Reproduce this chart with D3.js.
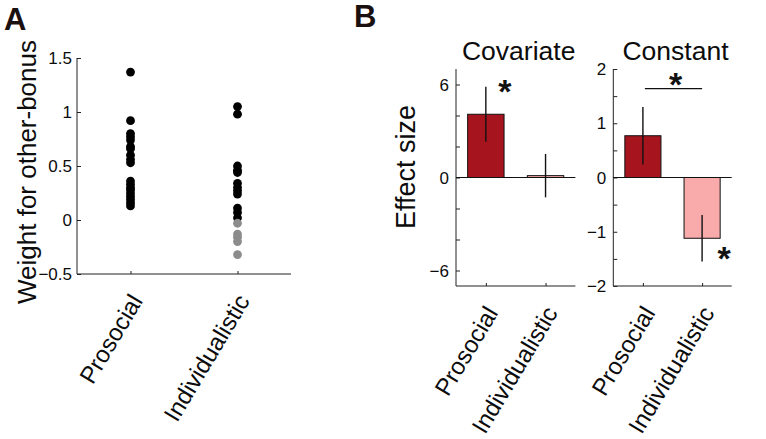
<!DOCTYPE html>
<html><head><meta charset="utf-8">
<script src="https://cdn.jsdelivr.net/npm/d3@7"></script>
<style>
body{margin:0;background:#fff;}
svg{display:block;font-family:"Liberation Sans",Arial,Helvetica,sans-serif;}
</style></head>
<body><svg id="c" width="766" height="439"></svg>
<script>
// ---------- data ----------
const groups = ["Prosocial", "Individualistic"];
const prosocialWeights = [1.37, 0.92, 0.80, 0.77, 0.74, 0.68, 0.66, 0.60, 0.56, 0.53, 0.36, 0.33, 0.30, 0.28, 0.25, 0.22, 0.19, 0.16, 0.13];
const individualisticWeights = [1.05, 0.98, 0.50, 0.46, 0.44, 0.34, 0.30, 0.27, 0.24, 0.11, 0.07, 0.02, -0.03, -0.13, -0.16, -0.20, -0.32];
const weightTicks = [-0.5, 0, 0.5, 1, 1.5];
const weightTickLabels = ["\u22120.5", "0", "0.5", "1", "1.5"];

const covariateMeans = [4.08, 0.12];
const covariateErrors = [1.78, 1.40];
const covariateTicks = [-6, -4, -2, 0, 2, 4, 6];
const covariateLabeled = [-6, 0, 6];

const constantMeans = [0.77, -1.12];
const constantErrors = [0.53, 0.43];
const constantTicks = [-2, -1.5, -1, -0.5, 0, 0.5, 1, 1.5, 2];
const constantLabeled = [-2, -1, 0, 1, 2];
const constantBracket = 1.64;

const barColors = ["#a6151e", "#f9aaab"];

// ---------- drawing ----------
const svg = d3.select("#c");
const axisColor = "#222";
const textColor = "#0c0c0c";
const tickFont = 17;
const fmt = v => (v < 0 ? "\u2212" + Math.abs(v) : String(v));

function catLabels(g, x, yBase) {
  groups.forEach(c => {
    g.append("text")
      .attr("transform", `translate(${x(c) + 13},${yBase + 27}) rotate(-59)`)
      .attr("text-anchor", "end")
      .attr("font-size", 24)
      .attr("fill", textColor)
      .text(c);
  });
}

function yAxis(g, y, x0, ticks, labeledFn, gap) {
  const ax = d3.axisRight(y).tickValues(ticks).tickSize(4).tickFormat("");
  const ga = g.append("g").attr("transform", `translate(${x0},0)`).call(ax);
  ga.select(".domain").remove();
  ga.selectAll("line").attr("stroke", axisColor);
  ticks.forEach((t, i) => {
    const lab = labeledFn(t, i);
    if (lab !== null) {
      g.append("text").attr("x", x0 - gap).attr("y", y(t)).attr("dy", "0.36em")
        .attr("text-anchor", "end").attr("font-size", tickFont).attr("fill", textColor).text(lab);
    }
  });
}

// ===== Panel A =====
{
  const left = 77, right = 291, top = 58, bottom = 274;
  const x = d3.scalePoint().domain(groups).range([left, right]).padding(0.5);
  const y = d3.scaleLinear().domain([-0.5, 1.5]).range([bottom, top]);
  const g = svg.append("g");
  g.append("line").attr("x1", left).attr("x2", left).attr("y1", top).attr("y2", bottom).attr("stroke", axisColor);
  g.append("line").attr("x1", left).attr("x2", right).attr("y1", bottom).attr("y2", bottom).attr("stroke", axisColor);
  yAxis(g, y, left, weightTicks, (t, i) => weightTickLabels[i], 5);
  const xa = d3.axisTop(x).tickSize(3).tickFormat("");
  const gx = g.append("g").attr("transform", `translate(0,${bottom})`).call(xa);
  gx.select(".domain").remove();
  gx.selectAll("line").attr("stroke", axisColor);
  const pts = [];
  prosocialWeights.forEach(v => pts.push({c: groups[0], v}));
  individualisticWeights.forEach(v => pts.push({c: groups[1], v}));
  g.selectAll("circle.d").data(pts).enter().append("circle")
    .attr("cx", d => x(d.c)).attr("cy", d => y(d.v)).attr("r", 4.4)
    .attr("fill", d => (d.c === groups[1] && d.v < 0) ? "#8c8c8c" : "#000");
  catLabels(g, x, bottom);
  g.append("text").attr("transform", `translate(36,${(top + bottom) / 2 + 6}) rotate(-90)`)
    .attr("text-anchor", "middle").attr("font-size", 26).attr("fill", textColor).text("Weight for other-bonus");
  svg.append("text").attr("x", 4).attr("y", 30).attr("font-size", 31).attr("font-weight", "bold").attr("fill", "#1a1010").text("A");
}

// ===== Panel B =====
svg.append("text").attr("x", 354).attr("y", 27).attr("font-size", 31).attr("font-weight", "bold").attr("fill", "#1a1010").text("B");
svg.append("text").attr("transform", `translate(415,167) rotate(-90)`)
  .attr("text-anchor", "middle").attr("font-size", 27).attr("fill", textColor).text("Effect size");

function barPanel(left, right, domain, means, errs, ticks, labeled, title) {
  const top = 69, bottom = 286;
  const x = d3.scalePoint().domain(groups).range([left, right]).padding(0.5);
  const y = d3.scaleLinear().domain(domain).range([bottom, top]);
  const bw = x.step() * 0.61;
  const g = svg.append("g");
  g.append("line").attr("x1", left).attr("x2", left).attr("y1", top).attr("y2", bottom).attr("stroke", axisColor);
  g.append("line").attr("x1", left).attr("x2", right).attr("y1", bottom).attr("y2", bottom).attr("stroke", axisColor);
  yAxis(g, y, left, ticks, t => labeled.includes(t) ? fmt(t) : null, 7);
  const xa = d3.axisTop(x).tickSize(3).tickFormat("");
  const gx = g.append("g").attr("transform", `translate(0,${bottom})`).call(xa);
  gx.select(".domain").remove();
  gx.selectAll("line").attr("stroke", axisColor);
  groups.forEach((c, i) => {
    const v = means[i];
    g.append("rect").attr("x", x(c) - bw / 2).attr("width", bw)
      .attr("y", y(Math.max(0, v))).attr("height", Math.abs(y(v) - y(0)))
      .attr("fill", barColors[i]).attr("stroke", "#111").attr("stroke-width", 1);
  });
  g.append("line").attr("x1", left).attr("x2", right).attr("y1", y(0)).attr("y2", y(0)).attr("stroke", "#111");
  groups.forEach((c, i) => {
    g.append("line").attr("x1", x(c)).attr("x2", x(c))
      .attr("y1", y(means[i] + errs[i])).attr("y2", y(means[i] - errs[i]))
      .attr("stroke", "#111").attr("stroke-width", 1.4);
  });
  g.append("text").attr("x", (left + right) / 2 + 3).attr("y", 60).attr("text-anchor", "middle")
    .attr("font-size", 26.5).attr("fill", textColor).text(title);
  return {g, x, y};
}

function star(g, cx, cy) {
  g.append("text").attr("x", cx).attr("y", cy + 17).attr("text-anchor", "middle")
    .attr("font-size", 34).attr("font-weight", "bold").attr("fill", "#111").text("*");
}

const cov = barPanel(456, 575.4, [-7, 7], covariateMeans, covariateErrors, covariateTicks, covariateLabeled, "Covariate");
catLabels(cov.g, cov.x, 286);
star(cov.g, cov.x(groups[0]) + 19, 86);

const con = barPanel(613.3, 731.7, [-2, 2], constantMeans, constantErrors, constantTicks, constantLabeled, "Constant");
catLabels(con.g, con.x, 286);
con.g.append("line").attr("x1", con.x(groups[0]) + 2).attr("x2", con.x(groups[1]))
  .attr("y1", con.y(constantBracket)).attr("y2", con.y(constantBracket)).attr("stroke", "#111").attr("stroke-width", 1.2);
star(con.g, (con.x(groups[0]) + con.x(groups[1])) / 2 + 3, 79);
star(con.g, con.x(groups[1]) + 22, 253);
</script></body></html>
